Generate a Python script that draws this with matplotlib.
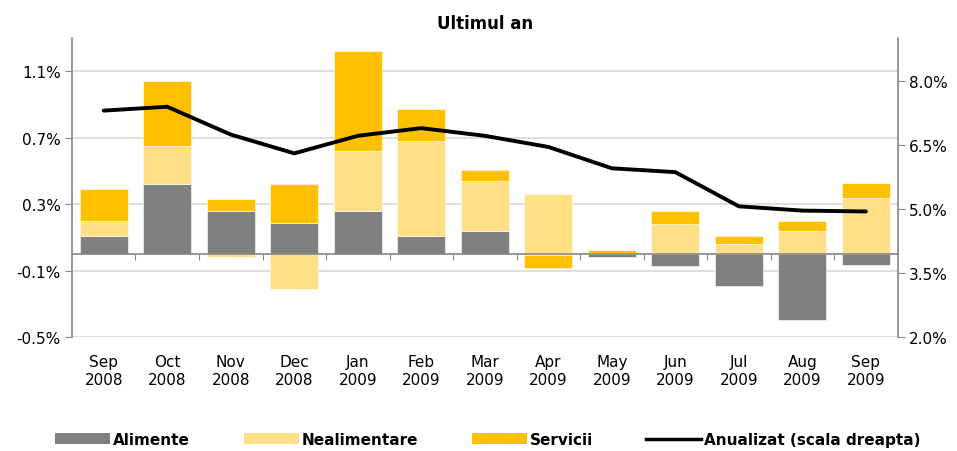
import numpy as np
import matplotlib
matplotlib.use("Agg")
import matplotlib.pyplot as plt
from matplotlib.patches import Patch
from matplotlib.lines import Line2D
import matplotlib.transforms as mtransforms

months = ["Sep", "Oct", "Nov", "Dec", "Jan", "Feb", "Mar", "Apr", "May", "Jun", "Jul", "Aug", "Sep"]
years = ["2008", "2008", "2008", "2008", "2009", "2009", "2009", "2009", "2009", "2009", "2009", "2009", "2009"]

# contributions to monthly inflation (%)
alimente = [0.11, 0.42, 0.26, 0.185, 0.26, 0.11, 0.14, -0.005, -0.02, -0.07, -0.19, -0.40, -0.065]
nealimentare = [0.09, 0.23, -0.02, -0.21, 0.36, 0.57, 0.30, 0.36, 0.008, 0.18, 0.06, 0.14, 0.34]
servicii = [0.19, 0.39, 0.07, 0.235, 0.60, 0.19, 0.065, -0.08, 0.015, 0.08, 0.05, 0.06, 0.09]

# annual rate (right axis, %)
anualizat = [7.30, 7.39, 6.74, 6.30, 6.71, 6.89, 6.71, 6.45, 5.95, 5.86, 5.06, 4.96, 4.94]

GRAY = "#808080"
LIGHT = "#FFE085"
ORANGE = "#FFC000"
AXIS = "#868686"
GRID = "#D9D9D9"

plt.rcParams["font.family"] = "DejaVu Sans"

fig = plt.figure(figsize=(9.57, 4.52), dpi=100)
ax = fig.add_axes([0.0752, 0.252, 0.8628, 0.6618])
ax2 = ax.twinx()

x = np.arange(len(months))
pos_bottom = np.zeros(len(x))
neg_bottom = np.zeros(len(x))
for vals, color in [(alimente, GRAY), (nealimentare, LIGHT), (servicii, ORANGE)]:
    v = np.array(vals)
    bottom = np.where(v >= 0, pos_bottom, neg_bottom)
    ax.bar(x, v, width=0.755, bottom=bottom, color=color, edgecolor="white",
           linewidth=0.4, zorder=2)
    pos_bottom += np.where(v >= 0, v, 0)
    neg_bottom += np.where(v < 0, v, 0)

ax2.plot(x, anualizat, color="black", linewidth=2.8, solid_capstyle="round",
         solid_joinstyle="miter", zorder=5)

# left axis
ax.set_xlim(-0.5, len(x) - 0.5)
ax.set_ylim(-0.5, 1.3)
ax.set_yticks([-0.5, -0.1, 0.3, 0.7, 1.1])
ax.set_yticklabels([f"{t:.1f}%" for t in [-0.5, -0.1, 0.3, 0.7, 1.1]])
ax.yaxis.grid(True, color=GRID, linewidth=1.2, zorder=0)
ax.set_axisbelow(True)
ax.tick_params(axis="y", direction="out", length=5, color=AXIS, labelsize=11, pad=3)

ax.spines["top"].set_visible(False)
ax.spines["right"].set_visible(False)
ax.spines["left"].set_color(AXIS)
ax.spines["left"].set_linewidth(1.2)
ax.spines["bottom"].set_position(("data", 0))
ax.spines["bottom"].set_color(AXIS)
ax.spines["bottom"].set_linewidth(1.2)
ax.spines["bottom"].set_zorder(3)

ax.set_xticks(np.arange(0.5, len(x) - 1, 1))
ax.tick_params(axis="x", direction="out", length=4, color=AXIS, labelbottom=False)

trans = mtransforms.blended_transform_factory(ax.transData, ax.transAxes)
for xi, m, yr in zip(x, months, years):
    ax.text(xi, -0.055, f"{m}\n{yr}", transform=trans, ha="center", va="top",
            fontsize=11, linespacing=1.25)

# right axis
ax2.set_ylim(2.0, 9.0)
ax2.set_yticks([2.0, 3.5, 5.0, 6.5, 8.0])
ax2.set_yticklabels([f"{t:.1f}%" for t in [2.0, 3.5, 5.0, 6.5, 8.0]])
ax2.tick_params(axis="y", direction="out", length=5, color=AXIS, labelsize=11, pad=3)
for s in ["top", "left", "bottom"]:
    ax2.spines[s].set_visible(False)
ax2.spines["right"].set_color(AXIS)
ax2.spines["right"].set_linewidth(1.2)

ax.set_title("Ultimul an", fontsize=12, fontweight="bold", pad=7)

handles = [
    Patch(facecolor=GRAY, label="Alimente"),
    Patch(facecolor=LIGHT, label="Nealimentare"),
    Patch(facecolor=ORANGE, label="Servicii"),
    Line2D([0], [0], color="black", linewidth=2.5, label="Anualizat (scala dreapta)"),
]
fig.legend(handles=handles, loc="lower center", bbox_to_anchor=(0.51, -0.022), ncol=4,
           frameon=False, prop={"weight": "bold", "size": 11}, handlelength=3.6,
           handleheight=0.75, handletextpad=0.2, columnspacing=3.5)

fig.savefig("out.png", dpi=100)
